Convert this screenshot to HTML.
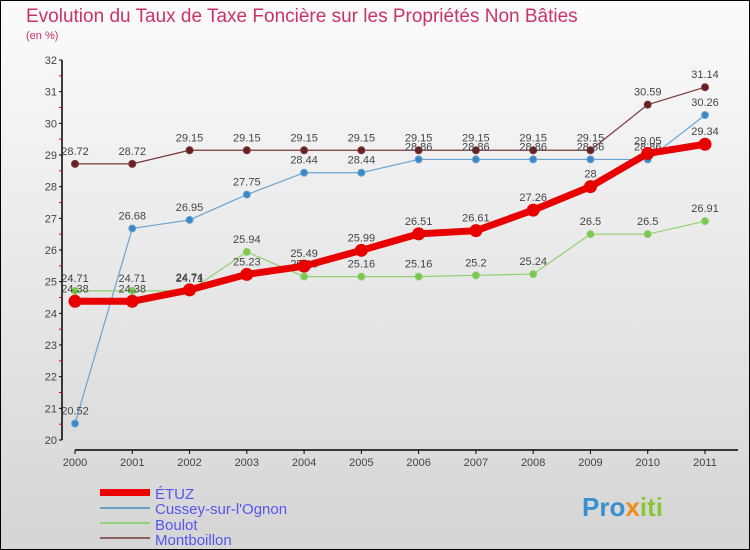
<!DOCTYPE html>
<html><head><meta charset="utf-8"><style>
body{margin:0}
#c{width:750px;height:550px;position:relative;overflow:hidden;font-family:"Liberation Sans",sans-serif;background:linear-gradient(#fbfbfb,#d5d5d5);box-sizing:border-box;border:1px solid #000}
</style></head><body>
<div id="c">
<svg id="s" width="750" height="550" style="position:absolute;left:-1px;top:-1px">
<text x="26" y="22" font-size="19" fill="#c8336a">Evolution du Taux de Taxe Foncière sur les Propriétés Non Bâties</text>
<text x="26" y="39" font-size="11" fill="#c8336a">(en %)</text>
<g id="axes"></g><g id="series"></g>
<g>
<rect x="100" y="489" width="50" height="7" fill="#e00"/>
<text x="155" y="499" font-size="15" fill="#5555ee">ÉTUZ</text>
<rect x="100" y="507" width="50" height="2" fill="#6a9fc8"/>
<text x="155" y="514" font-size="15" fill="#5555ee">Cussey-sur-l'Ognon</text>
<rect x="100" y="522" width="50" height="2" fill="#8fd07a"/>
<text x="155" y="530" font-size="15" fill="#5555ee">Boulot</text>
<rect x="100" y="537" width="50" height="2" fill="#8a6060"/>
<text x="155" y="545" font-size="15" fill="#5555ee">Montboillon</text>
</g>
<g><text x="582" y="516" font-size="26" font-weight="bold" fill="#3a8fd0">Pro<tspan fill="#f08a1a">x</tspan><tspan fill="#8cc43a">iti</tspan></text></g>
</svg>
</div>
<script>
const years=[2000,2001,2002,2003,2004,2005,2006,2007,2008,2009,2010,2011];
const yTicks=[20,21,22,23,24,25,26,27,28,29,30,31,32];
const etuz=[24.38,24.38,24.74,25.23,25.49,25.99,26.51,26.61,27.26,28,29.05,29.34];
const cussey=[20.52,26.68,26.95,27.75,28.44,28.44,28.86,28.86,28.86,28.86,28.86,30.26];
const boulot=[24.71,24.71,24.71,25.94,25.16,25.16,25.16,25.2,25.24,26.5,26.5,26.91];
const montboillon=[28.72,28.72,29.15,29.15,29.15,29.15,29.15,29.15,29.15,29.15,30.59,31.14];
const NS='http://www.w3.org/2000/svg';
const X=i=>75+i*(630/11);
const Y=v=>440-(v-20)*(380/12);
function mk(p,t,a){const e=document.createElementNS(NS,t);for(const k in a)e.setAttribute(k,a[k]);p.appendChild(e);return e;}
const ax=document.getElementById('axes');
let l=mk(ax,'line',{x1:62,y1:60,x2:62,y2:440,stroke:'#000','stroke-width':1.5});


l=mk(ax,'line',{x1:75,y1:450,x2:738,y2:450,stroke:'#000','stroke-width':1.5});


yTicks.forEach(v=>{
 const y=Y(v);
 mk(ax,'line',{x1:59,y1:y,x2:62,y2:y,stroke:'#000'});
 if(v<32)mk(ax,'line',{x1:59,y1:Y(v+0.5),x2:62,y2:Y(v+0.5),stroke:'#e00'});
 const t=mk(ax,'text',{x:57,y:y+4,'font-size':11,fill:'#444','text-anchor':'end'});
 t.textContent=v;
 
 
});
years.forEach((yr,i)=>{
 const x=X(i);
 mk(ax,'line',{x1:x,y1:450,x2:x,y2:454,stroke:'#000'});
 const t=mk(ax,'text',{x:x,y:466,'font-size':11,fill:'#444','text-anchor':'middle'});
 t.textContent=yr;
 
 
});
const sg=document.getElementById('series');
function series(vals,color,w,r,name,fill){
 const g=mk(sg,'g',{});
 
 
 const pl=mk(g,'polyline',{points:vals.map((v,i)=>X(i)+','+Y(v)).join(' '),fill:'none',stroke:color,'stroke-width':w,'stroke-linejoin':'round'});
 
 
 vals.forEach((v,i)=>{
  const c=mk(g,'circle',{cx:X(i),cy:Y(v),r:r,fill:fill,stroke:color,'stroke-width':1});
  
  
  const t=mk(g,'text',{x:X(i),y:Y(v)-9,'font-size':11,fill:'#444','text-anchor':'middle'});
  t.textContent=v;
  
  
 });
}
series(montboillon,'#7a3a3a',1.2,3.5,'montboillon','#6a2020');
series(cussey,'#6aa3d0',1.2,3.5,'cussey','#3a88c8');
series(boulot,'#90d070',1.2,3.5,'boulot','#7ac850');
series(etuz,'#e80000',7,6,'etuz','#e80000');
</script>
</body></html>
